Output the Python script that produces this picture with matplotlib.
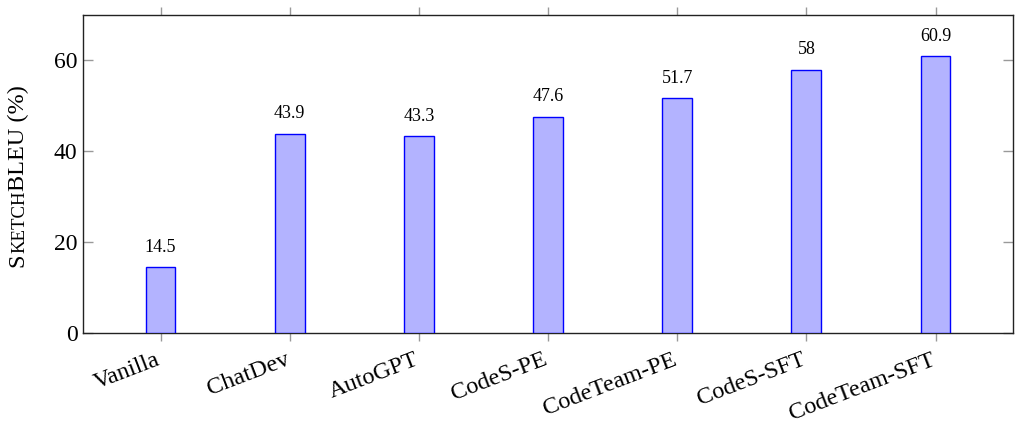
import matplotlib
matplotlib.use("Agg")
import matplotlib.pyplot as plt
import matplotlib.transforms as mtransforms
import numpy as np

categories = ["Vanilla", "ChatDev", "AutoGPT", "CodeS-PE", "CodeTeam-PE", "CodeS-SFT", "CodeTeam-SFT"]
values = [14.5, 43.9, 43.3, 47.6, 51.7, 58, 60.9]
value_labels = ["14.5", "43.9", "43.3", "47.6", "51.7", "58", "60.9"]
yticks = [0, 20, 40, 60]

plt.rcParams['font.family'] = ['Liberation Serif', 'DejaVu Serif']

W, H = 1017, 430
fig = plt.figure(figsize=(W / 100, H / 100), dpi=100)
ax = fig.add_axes([83 / W, 1 - 333 / H, (1013 - 83) / W, (333 - 15) / H])

x = np.arange(len(categories))
bars = ax.bar(x, values, width=0.23, color='#b3b3ff', edgecolor='#0000ff', linewidth=1.0, zorder=3)

ax.set_xlim(-0.6, 6.6)
ax.set_ylim(0, 70)
ax.set_yticks(yticks)
ax.set_yticklabels([str(t) for t in yticks], fontsize=17)
ax.set_xticks(x)
ax.set_xticklabels(categories, fontsize=17.5, rotation=21, ha='right', va='top', rotation_mode='anchor')

ax.tick_params(axis='x', direction='out', length=6, width=1, color='#999999', top=True, pad=2)
ax.tick_params(axis='y', direction='in', length=7, width=1, color='#999999', right=True, pad=4)

offset = mtransforms.ScaledTranslation(-5 / 100, -5 / 100, fig.dpi_scale_trans)
for lab in ax.get_xticklabels():
    lab.set_transform(lab.get_transform() + offset)

for s in ax.spines.values():
    s.set_linewidth(1.0)
    s.set_color('#222222')

for xi, v, lbl in zip(x, values, value_labels):
    ax.annotate(lbl, (xi, v), xytext=(0, 11), textcoords='offset points',
                ha='center', va='baseline', fontsize=13)

# y label with small caps "Sketch"
renderer = fig.canvas.get_renderer()
xl = 18 / W
parts = [("S", 17.5), ("KETCH", 13.5), ("BLEU (%)", 17.5)]
texts = []
total = 0
for s, fs in parts:
    t = fig.text(xl, 0, s, rotation=90, fontsize=fs, ha='center', va='bottom')
    ext = t.get_window_extent(renderer)
    texts.append((t, ext.height))
    total += ext.height
yc = (H - 176) / H
cur = yc - total / 2 / H
for (t, h), (s, fs) in zip(texts, parts):
    t.set_y(cur)
    cur += h / H
texts[1][0].set_x(xl + 2.0 / W)

fig.savefig("out.png", dpi=100)
